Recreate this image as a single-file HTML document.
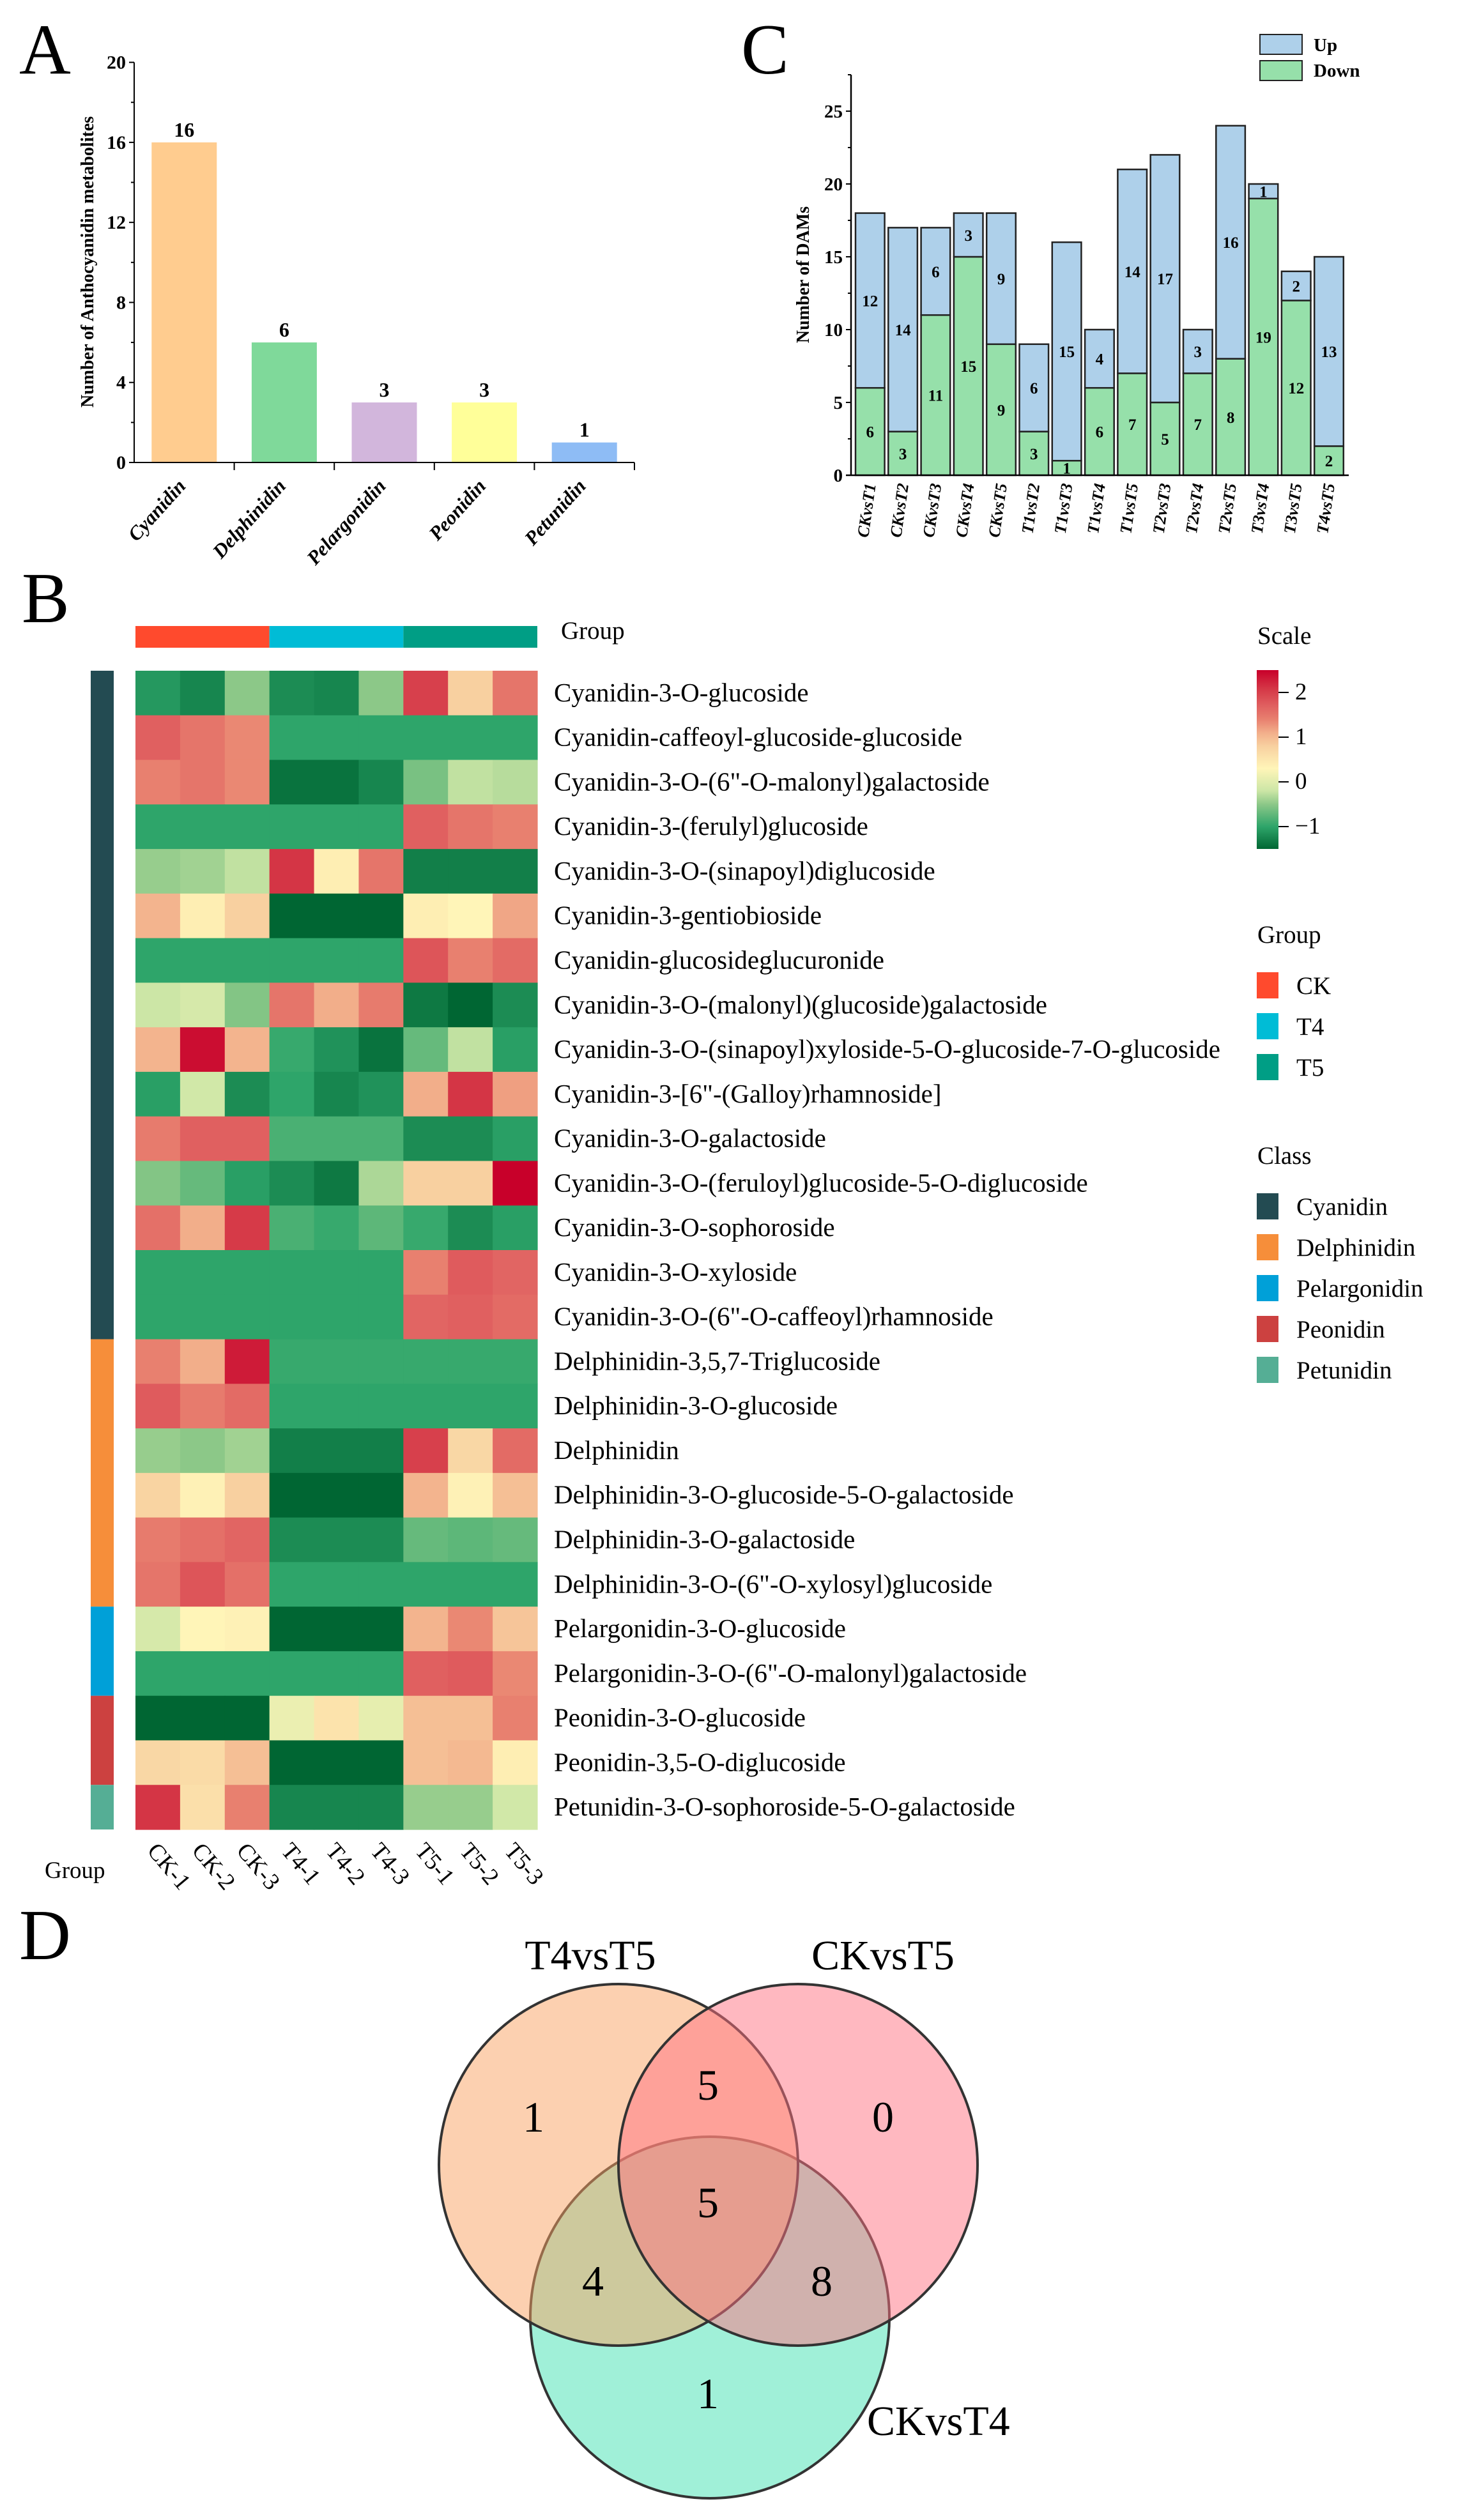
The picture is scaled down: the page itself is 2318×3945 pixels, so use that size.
<!DOCTYPE html>
<html><head><meta charset="utf-8"><style>
html,body{margin:0;padding:0;background:#fff}
svg{display:block}
text{font-family:"Liberation Serif",serif;fill:#000}
.b{font-weight:bold}
</style></head><body>
<svg id="root" xmlns="http://www.w3.org/2000/svg" width="2318" height="3945" viewBox="0 0 2318 3945">
<rect width="2318" height="3945" fill="#fff"/>
<g id="pA"></g>
<g id="pC"></g>
<g id="pB"></g>
<g id="pD"></g>
</svg>
<script>
// ---------- Panel A data ----------
const aCats = ["Cyanidin","Delphinidin","Pelargonidin","Peonidin","Petunidin"];
const aVals = [16,6,3,3,1];
const aColors = ["#FFCC8F","#7FD99A","#D2B6DC","#FFFF99","#8EBCF5"];
const aTicks = [0,4,8,12,16,20];
// ---------- Panel C data ----------
const cCats = ["CKvsT1","CKvsT2","CKvsT3","CKvsT4","CKvsT5","T1vsT2","T1vsT3","T1vsT4","T1vsT5","T2vsT3","T2vsT4","T2vsT5","T3vsT4","T3vsT5","T4vsT5"];
const cDown = [6,3,11,15,9,3,1,6,7,5,7,8,19,12,2];
const cUp = [12,14,6,3,9,6,15,4,14,17,3,16,1,2,13];
const cTicks = [0,5,10,15,20,25];
// ---------- Panel B data ----------
const bRows = ["Cyanidin-3-O-glucoside","Cyanidin-caffeoyl-glucoside-glucoside","Cyanidin-3-O-(6\"-O-malonyl)galactoside","Cyanidin-3-(ferulyl)glucoside","Cyanidin-3-O-(sinapoyl)diglucoside","Cyanidin-3-gentiobioside","Cyanidin-glucosideglucuronide","Cyanidin-3-O-(malonyl)(glucoside)galactoside","Cyanidin-3-O-(sinapoyl)xyloside-5-O-glucoside-7-O-glucoside","Cyanidin-3-[6\"-(Galloy)rhamnoside]","Cyanidin-3-O-galactoside","Cyanidin-3-O-(feruloyl)glucoside-5-O-diglucoside","Cyanidin-3-O-sophoroside","Cyanidin-3-O-xyloside","Cyanidin-3-O-(6\"-O-caffeoyl)rhamnoside","Delphinidin-3,5,7-Triglucoside","Delphinidin-3-O-glucoside","Delphinidin","Delphinidin-3-O-glucoside-5-O-galactoside","Delphinidin-3-O-galactoside","Delphinidin-3-O-(6\"-O-xylosyl)glucoside","Pelargonidin-3-O-glucoside","Pelargonidin-3-O-(6\"-O-malonyl)galactoside","Peonidin-3-O-glucoside","Peonidin-3,5-O-diglucoside","Petunidin-3-O-sophoroside-5-O-galactoside"];
const bCols = ["CK-1","CK-2","CK-3","T4-1","T4-2","T4-3","T5-1","T5-2","T5-3"];
const bVals = [
[-1.1,-1.25,-0.5,-1.2,-1.25,-0.5,2.0,0.8,1.5],
[1.7,1.5,1.35,-1,-1,-1,-1,-1,-1],
[1.4,1.5,1.35,-1.4,-1.4,-1.25,-0.6,-0.25,-0.3],
[-1,-1,-1,-1,-1,-1,1.7,1.5,1.4],
[-0.45,-0.4,-0.25,2.1,0.4,1.5,-1.3,-1.3,-1.3],
[1.05,0.4,0.8,-1.5,-1.5,-1.5,0.4,0.3,1.15],
[-1,-1,-1,-1,-1,-1,1.8,1.4,1.6],
[-0.2,-0.1,-0.55,1.5,1.1,1.45,-1.35,-1.5,-1.2],
[1.05,2.4,1.05,-0.95,-1.15,-1.4,-0.7,-0.25,-1.05],
[-1.05,-0.15,-1.2,-1.0,-1.25,-1.15,1.1,2.1,1.2],
[1.45,1.7,1.7,-0.85,-0.85,-0.85,-1.2,-1.2,-1.05],
[-0.55,-0.7,-1.05,-1.2,-1.35,-0.35,0.8,0.8,2.5],
[1.55,1.1,2.05,-0.85,-0.95,-0.75,-0.95,-1.2,-1.05],
[-1,-1,-1,-1,-1,-1,1.4,1.75,1.65],
[-1,-1,-1,-1,-1,-1,1.65,1.7,1.6],
[1.4,1.1,2.3,-0.95,-0.95,-0.95,-0.95,-0.95,-0.95],
[1.75,1.45,1.6,-1,-1,-1,-1,-1,-1],
[-0.45,-0.5,-0.4,-1.3,-1.3,-1.3,2.0,0.7,1.6],
[0.75,0.35,0.8,-1.5,-1.5,-1.5,1.05,0.35,0.95],
[1.45,1.55,1.65,-1.2,-1.2,-1.2,-0.7,-0.75,-0.7],
[1.5,1.8,1.55,-1,-1,-1,-1,-1,-1],
[-0.1,0.3,0.35,-1.5,-1.5,-1.5,1.05,1.35,0.9],
[-1,-1,-1,-1,-1,-1,1.7,1.75,1.35],
[-1.5,-1.5,-1.5,0.1,0.55,0.05,0.95,0.95,1.4],
[0.7,0.65,0.95,-1.5,-1.5,-1.5,0.95,1.0,0.4],
[2.1,0.6,1.4,-1.25,-1.25,-1.25,-0.45,-0.45,-0.15]];
const bGroups = ["CK","T4","T5"];
const bGroupColors = ["#FF4A2D","#00BCD6","#009E85"];
const bClasses = ["Cyanidin","Delphinidin","Pelargonidin","Peonidin","Petunidin"];
const bClassCounts = [15,6,2,2,1];
const bClassColors = ["#234B52","#F68E3A","#00A0D8","#CC4140","#55AE95"];
const bScaleTicks = [2,1,0,-1];
// ---------- Panel D data ----------
const dSets = ["T4vsT5","CKvsT5","CKvsT4"];
const dCounts = [1,5,0,5,4,8,1];

const NS="http://www.w3.org/2000/svg";
function el(p,tag,attrs,txt){const e=document.createElementNS(NS,tag);for(const k in attrs)e.setAttribute(k,attrs[k]);if(txt!==undefined)e.textContent=txt;p.appendChild(e);return e;}

// ---------- Panel A ----------
(function(){
const g=document.getElementById('pA');
const x0=210,y0=724,yTop=97.6,xEnd=993,vmax=20;
const y=v=>y0-(v/vmax)*(y0-yTop);
const bw=(xEnd-x0)/aCats.length;
const letter=el(g,'text',{x:30,y:115,'font-size':112},'A');

aCats.forEach((c,i)=>{
 const cx=x0+bw*(i+0.5);
 const r=el(g,'rect',{x:cx-51,y:y(aVals[i]),width:102,height:y0-y(aVals[i]),fill:aColors[i]});
 
 const t=el(g,'text',{x:cx,y:y(aVals[i])-9,'text-anchor':'middle','font-size':32,class:'b'},String(aVals[i]));
 
 const l=el(g,'text',{x:cx+4,y:y0+38,'text-anchor':'end','font-size':31,'font-style':'italic',class:'b',transform:`rotate(-48 ${cx+4} ${y0+38})`},c);
 
 el(g,'line',{x1:x0+bw*(i+1),x2:x0+bw*(i+1),y1:y0,y2:y0+12,stroke:'#000','stroke-width':2});
});
el(g,'line',{x1:x0,x2:x0,y1:yTop,y2:y0,stroke:'#000','stroke-width':2});
el(g,'line',{x1:x0-8,x2:xEnd,y1:y0,y2:y0,stroke:'#000','stroke-width':2});
for(let v=0;v<=vmax;v+=2){el(g,'line',{x1:x0-(v%4==0?8:5),x2:x0,y1:y(v),y2:y(v),stroke:'#000','stroke-width':2});}
aTicks.forEach(v=>{const t=el(g,'text',{x:x0-13,y:y(v)+10,'text-anchor':'end','font-size':30,class:'b'},String(v));});
const yt=el(g,'text',{x:146,y:410,'text-anchor':'middle','font-size':28,class:'b',transform:'rotate(-90 146 410)'},'Number of Anthocyanidin metabolites');

})();

// ---------- Panel C ----------
(function(){
const g=document.getElementById('pC');
const x0=1332,y0=744,yTop=117,vmax=25,xEnd=2111;
const y=v=>y0-(v/vmax)*(y0-174);
const step=51.3,bw=45.6,first=1339;
const letter=el(g,'text',{x:1160,y:115,'font-size':112},'C');

cCats.forEach((c,i)=>{
 const bx=first+step*i,cx=bx+bw/2;
 const d=el(g,'rect',{x:bx,y:y(cDown[i]),width:bw,height:y0-y(cDown[i]),fill:'#96E0AA',stroke:'#222','stroke-width':2.5});
 
 const u=el(g,'rect',{x:bx,y:y(cDown[i]+cUp[i]),width:bw,height:y(cDown[i])-y(cDown[i]+cUp[i]),fill:'#AED0EA',stroke:'#222','stroke-width':2.5});
 
 const td=el(g,'text',{x:cx,y:(y(0)+y(cDown[i]))/2+9,'text-anchor':'middle','font-size':25,class:'b'},String(cDown[i]));
 
 const tu=el(g,'text',{x:cx,y:(y(cDown[i])+y(cDown[i]+cUp[i]))/2+9,'text-anchor':'middle','font-size':25,class:'b'},String(cUp[i]));
 
 const l=el(g,'text',{x:cx+9,y:y0+14,'text-anchor':'end','font-size':26,'font-style':'italic',class:'b',transform:`rotate(-82 ${cx+9} ${y0+14})`},c);
 
});
el(g,'line',{x1:x0,x2:x0,y1:yTop,y2:y0,stroke:'#000','stroke-width':2.5});
el(g,'line',{x1:x0-8,x2:xEnd,y1:y0,y2:y0,stroke:'#000','stroke-width':2.5});
for(let v=0;v<=27.5;v+=2.5){el(g,'line',{x1:x0-(v%5==0?8:5),x2:x0,y1:y(v),y2:y(v),stroke:'#000','stroke-width':2});}
cTicks.forEach(v=>{const t=el(g,'text',{x:x0-13,y:y(v)+10,'text-anchor':'end','font-size':29,class:'b'},String(v));});
const yt=el(g,'text',{x:1266,y:430,'text-anchor':'middle','font-size':28,class:'b',transform:'rotate(-90 1266 430)'},'Number of DAMs');

const lu=el(g,'rect',{x:1972,y:54,width:66,height:31,fill:'#AED0EA',stroke:'#222','stroke-width':2});

const ld=el(g,'rect',{x:1972,y:95,width:66,height:31,fill:'#96E0AA',stroke:'#222','stroke-width':2});

const tu=el(g,'text',{x:2056,y:80,'font-size':29,class:'b'},'Up');
const tdn=el(g,'text',{x:2056,y:120,'font-size':29,class:'b'},'Down');
})();

// ---------- Panel B ----------
const stops=[[-1.5,[0,102,51]],[-1.0,[46,165,106]],[-0.5,[140,200,136]],[-0.2,[204,230,166]],[0.3,[255,245,184]],[0.8,[248,208,160]],[1.1,[242,174,138]],[1.4,[232,128,111]],[1.7,[224,96,96]],[2.1,[212,53,69]],[2.5,[200,0,42]]];
function cmap(v){v=Math.max(-1.5,Math.min(2.5,v));for(let i=1;i<stops.length;i++){if(v<=stops[i][0]){const a=stops[i-1],b=stops[i],t=(v-a[0])/(b[0]-a[0]);const c=a[1].map((x,k)=>Math.round(x+(b[1][k]-x)*t));return `rgb(${c})`;}}return 'rgb(200,0,42)';}
(function(){
const g=document.getElementById('pB');
const hx=212,hy=1050,cw=(841-212)/bCols.length,rh=(2864-1050)/bRows.length;
const letter=el(g,'text',{x:34,y:974,'font-size':112},'B');

bGroups.forEach((gn,i)=>{const r=el(g,'rect',{x:hx+cw*3*i,y:980,width:cw*3,height:34,fill:bGroupColors[i]});});
const gl=el(g,'text',{x:878,y:1000,'font-size':39},'Group');
let ri=0;
bClasses.forEach((c,i)=>{const r=el(g,'rect',{x:142,y:hy+rh*ri,width:36,height:rh*bClassCounts[i],fill:bClassColors[i]});ri+=bClassCounts[i];});
bVals.forEach((row,r)=>{
 row.forEach((v,c)=>{const e=el(g,'rect',{x:hx+cw*c,y:hy+rh*r,width:cw+0.6,height:rh+0.6,fill:cmap(v)});});
 const t=el(g,'text',{x:867,y:hy+rh*r+rh/2+13,'font-size':41},bRows[r]);
});
bCols.forEach((c,i)=>{const cx=hx+cw*(i+0.5)-18;const t=el(g,'text',{x:cx,y:2898,'font-size':37,fill:'#333',transform:`rotate(50 ${cx} 2898)`},c);});
const bg=el(g,'text',{x:70,y:2940,'font-size':37},'Group');
const st=el(g,'text',{x:1968,y:1008,'font-size':39},'Scale');
const defs=el(g,'defs',{});const lg=el(defs,'linearGradient',{id:'sg',x1:0,y1:1,x2:0,y2:0});
stops.forEach(s=>el(lg,'stop',{offset:((s[0]+1.5)/4*100)+'%','stop-color':`rgb(${s[1]})`}));
const cb=el(g,'rect',{x:1967,y:1049,width:34,height:280,fill:'url(#sg)'});
const sy=v=>1329-(v+1.5)/4*280;
bScaleTicks.forEach(v=>{el(g,'line',{x1:2001,x2:2017,y1:sy(v),y2:sy(v),stroke:'#000','stroke-width':2});const t=el(g,'text',{x:2027,y:sy(v)+11,'font-size':37},v<0?'\u2212'+Math.abs(v):String(v));});
const gt=el(g,'text',{x:1968,y:1476,'font-size':39},'Group');
bGroups.forEach((gn,i)=>{const yy=1522+64*i;const r=el(g,'rect',{x:1967,y:yy,width:34,height:41,fill:bGroupColors[i]});const t=el(g,'text',{x:2029,y:yy+34,'font-size':39},gn);});
const ct=el(g,'text',{x:1968,y:1822,'font-size':39},'Class');
bClasses.forEach((c,i)=>{const yy=1868+64*i;const r=el(g,'rect',{x:1967,y:yy,width:34,height:41,fill:bClassColors[i]});const t=el(g,'text',{x:2029,y:yy+34,'font-size':39},c);});
})();

// ---------- Panel D ----------
(function(){
const g=document.getElementById('pD');
const letter=el(g,'text',{x:30,y:3067,'font-size':112},'D');

const e3=el(g,'ellipse',{cx:1111,cy:3628,rx:281,ry:283,fill:'#41E1B1','fill-opacity':0.5,stroke:'#333','stroke-width':4});

const e1=el(g,'ellipse',{cx:968,cy:3389,rx:281,ry:283,fill:'#F9A161','fill-opacity':0.5,stroke:'#333','stroke-width':4});

const e2=el(g,'ellipse',{cx:1249,cy:3389,rx:281,ry:283,fill:'#FF7181','fill-opacity':0.5,stroke:'#333','stroke-width':4});

const pos=[[835,3313],[1108,3263],[1382,3313],[1108,3447],[928,3570],[1286,3570],[1108,3746]];
dCounts.forEach((v,i)=>{const t=el(g,'text',{x:pos[i][0],y:pos[i][1]+24,'text-anchor':'middle','font-size':68},String(v));});
const l1=el(g,'text',{x:924,y:3083,'text-anchor':'middle','font-size':66},dSets[0]);
const l2=el(g,'text',{x:1382,y:3083,'text-anchor':'middle','font-size':66},dSets[1]);
const l3=el(g,'text',{x:1357,y:3812,'font-size':66},dSets[2]);
})();
</script>
</body></html>
